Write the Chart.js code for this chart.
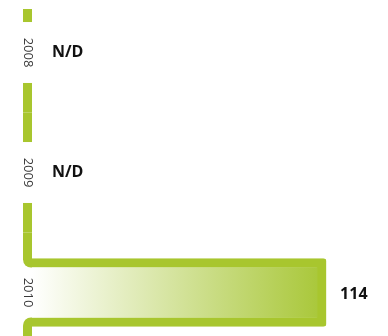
<!DOCTYPE html>
<html><head><meta charset="utf-8">
<script src="https://cdn.jsdelivr.net/npm/chart.js@4"></script>
<style>html,body{margin:0;padding:0;background:#fff;}</style>
</head><body>
<canvas id="c" width="388" height="336"></canvas>
<script>
// ---- data ----
const years = [2008, 2009, 2010];
const values = [null, null, 114];
const missingLabel = 'N/D';

// ---- style ----
const GREEN = '#a8c62e';
const LINE_W = 9;
const AXIS_W = 32;
const LABEL_CX = 27.5;
const yearFont = {family: 'Open Sans', size: 13, weight: 'normal'};
const valueFont = 'bold 16px "Open Sans"';

const mctx = document.createElement('canvas').getContext('2d');
mctx.font = '13px "Open Sans"';
const widest = Math.max(...years.map(y => mctx.measureText(String(y)).width));
// mirrored labels: centre x = axis right + padding + widest/2
const tickPad = LABEL_CX - AXIS_W - widest / 2;

const overlay = {
  id: 'overlay',
  beforeDatasetsDraw(chart) {
    const {ctx, chartArea} = chart;
    const ys = chart.scales.y, xs = chart.scales.x;
    const meta = chart.getDatasetMeta(0);
    const x1 = xs.getPixelForValue(0);
    const x0 = x1 - LINE_W;
    const gapHalf = 0.254;
    ctx.save();
    ctx.beginPath();
    ctx.rect(0, chartArea.top, chart.width, chartArea.bottom - chartArea.top);
    ctx.clip();
    ctx.fillStyle = GREEN;
    years.forEach((yr, i) => {
      const top = ys.getPixelForValue(yr - 0.5);
      const bot = ys.getPixelForValue(yr + 0.5);
      if (values[i] == null) {
        const g0 = ys.getPixelForValue(yr - gapHalf);
        const g1 = ys.getPixelForValue(yr + gapHalf);
        ctx.fillRect(x0, top, LINE_W, g0 - top);
        ctx.fillRect(x0, g1, LINE_W, bot - g1);
      } else {
        const el = meta.data[i];
        const bTop = el.y - el.height / 2;
        const bBot = el.y + el.height / 2;
        ctx.beginPath();
        ctx.roundRect(x0, top, LINE_W, bTop + LINE_W - top, [0, 0, 0, 8]);
        ctx.fill();
        ctx.beginPath();
        ctx.roundRect(x0, bBot - LINE_W, LINE_W, bot - (bBot - LINE_W), [8, 0, 0, 0]);
        ctx.fill();
      }
    });
    ctx.restore();
  },
  afterDatasetsDraw(chart) {
    const {ctx} = chart;
    const ys = chart.scales.y, xs = chart.scales.x;
    const meta = chart.getDatasetMeta(0);
    ctx.save();
    ctx.font = valueFont;
    ctx.fillStyle = '#111';
    ctx.textBaseline = 'middle';
    ctx.textAlign = 'left';
    years.forEach((yr, i) => {
      const y = ys.getPixelForValue(yr);
      if (values[i] == null) {
        ctx.fillText(missingLabel, xs.getPixelForValue(0) + 20, y);
      } else {
        const el = meta.data[i];
        ctx.fillText(String(values[i]), el.x + 14, y + 2);
      }
    });
    ctx.restore();
  }
};

new Chart(document.getElementById('c'), {
  type: 'bar',
  data: {
    datasets: [{
      data: years.map((y, i) => ({x: values[i], y: y})),
      barThickness: 68,
      borderWidth: LINE_W,
      borderColor: GREEN,
      borderSkipped: 'start',
      borderRadius: 3,
      backgroundColor(c) {
        const chart = c.chart;
        if (!chart.chartArea) return GREEN;
        const xs = chart.scales.x;
        const g = chart.ctx.createLinearGradient(xs.getPixelForValue(0), 0, xs.getPixelForValue(114) - LINE_W, 0);
        g.addColorStop(0, '#ffffff');
        g.addColorStop(1, '#aac83c');
        return g;
      }
    }]
  },
  options: {
    indexAxis: 'y',
    responsive: false,
    animation: false,
    layout: {autoPadding: false, padding: {top: 9, left: 0, right: 0, bottom: 0}},
    plugins: {legend: {display: false}, tooltip: {enabled: false}},
    scales: {
      x: {type: 'linear', min: 0, max: 138, display: false, offset: false},
      y: {
        type: 'linear',
        reverse: true,
        offset: false,
        min: 2007.6375,
        max: 2010.3625,
        grid: {display: false, drawTicks: false, offset: false},
        border: {display: false},
        afterBuildTicks(s) { s.ticks = years.map(v => ({value: v})); },
        afterFit(s) {
          s.width = AXIS_W;
          s.paddingTop = 0; s.paddingBottom = 0; s.paddingLeft = 0; s.paddingRight = 0;
        },
        ticks: {
          z: 1,
          mirror: true,
          minRotation: -90,
          maxRotation: -90,
          crossAlign: 'center',
          padding: tickPad,
          color: '#3a3a3a',
          font: yearFont,
          callback: v => String(v)
        }
      }
    }
  },
  plugins: [overlay]
});
</script>
</body></html>
